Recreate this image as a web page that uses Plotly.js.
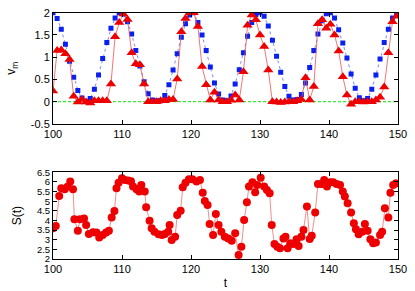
<!DOCTYPE html>
<html><head><meta charset="utf-8">
<script src="https://cdn.plot.ly/plotly-3.0.1.min.js"></script>
<style>html,body{margin:0;padding:0;background:#fff}#c{width:415px;height:291px}</style>
</head><body><div id="c"></div>
<script>
const tTop = [100.0,100.6,101.2,101.8,102.4,103.0,103.6,104.2,104.8,105.4,106.0,106.6,107.2,107.8,108.4,109.0,109.6,110.2,110.8,111.4,112.0,112.6,113.2,113.8,114.4,115.0,115.6,116.2,116.8,117.4,118.0,118.6,119.2,119.8,120.4,121.0,121.6,122.2,122.8,123.4,124.0,124.6,125.2,125.8,126.4,127.0,127.6,128.2,128.8,129.4,130.0,130.6,131.2,131.8,132.4,133.0,133.6,134.2,134.8,135.4,136.0,136.6,137.2,137.8,138.4,139.0,139.6,140.2,140.8,141.4,142.0,142.6,143.2,143.8,144.4,145.0,145.6,146.2,146.8,147.4,148.0,148.6,149.2,149.8];
const vBlue = [2.00,1.87,1.63,1.29,0.91,0.55,0.25,0.08,0.01,0.07,0.28,0.60,0.97,1.33,1.65,1.88,2.00,1.97,1.80,1.52,1.15,0.80,0.45,0.18,0.04,0.02,0.02,0.14,0.38,0.71,1.08,1.45,1.75,1.95,2.00,1.78,1.50,1.15,0.78,0.42,0.17,0.04,0.02,0.13,0.40,0.72,1.10,1.47,1.78,1.96,2.00,1.92,1.70,1.38,1.02,0.66,0.34,0.12,0.04,0.05,0.16,0.42,0.77,1.15,1.52,1.82,1.98,2.00,1.88,1.62,1.32,0.98,0.62,0.30,0.09,0.02,0.07,0.28,0.60,0.96,1.33,1.63,1.88,1.99];
const vRed = [0.24,1.15,1.16,1.08,0.95,0.12,-0.01,0.05,-0.01,-0.03,0.02,0.02,0.02,0.02,0.40,1.46,1.78,1.97,1.85,1.10,0.85,0.83,0.40,0.00,0.00,0.00,0.02,0.02,0.05,0.05,0.51,1.57,1.87,2.00,2.00,1.69,0.79,0.38,0.04,0.21,0.04,0.00,0.00,0.03,0.15,0.04,0.67,1.72,1.95,1.84,1.50,1.24,0.71,0.00,-0.01,-0.02,-0.01,0.00,0.00,0.02,0.05,0.54,0.04,0.34,1.75,1.84,1.65,1.74,1.50,1.14,0.56,0.15,-0.06,0.00,0.00,-0.01,0.00,0.00,0.04,0.10,0.33,1.10,1.80,1.92];
const zeroT = [100,150];
const zeroV = [0,0];
const tS = [100.0,100.4,100.9,101.2,101.7,102.1,102.5,102.9,103.1,103.6,103.9,104.5,104.8,105.2,105.8,106.3,106.7,107.2,107.7,108.1,108.5,108.9,109.2,109.5,110.0,110.4,110.9,111.3,111.6,112.1,112.5,112.8,113.3,113.5,114.0,114.3,114.7,115.3,115.8,116.2,116.7,116.9,117.2,117.7,118.0,118.5,118.8,119.2,119.7,120.2,120.8,121.3,121.7,122.0,122.4,122.7,123.2,123.6,124.0,124.4,124.9,125.4,125.9,126.4,126.9,127.3,127.7,128.1,128.4,128.9,129.3,129.6,130.1,130.6,131.0,131.4,131.7,132.1,132.5,132.9,133.4,133.7,134.0,134.4,134.8,135.3,135.6,136.0,136.3,136.8,137.2,137.5,138.0,138.4,138.9,139.3,139.7,140.2,140.6,141.1,141.6,142.0,142.3,142.7,143.2,143.6,143.9,144.3,144.8,145.2,145.6,146.0,146.4,146.8,147.4,147.7,148.1,148.6,148.9,149.3,149.7];
const S = [3.59,3.71,5.27,5.67,5.62,5.75,6.02,5.62,4.06,3.47,4.06,4.10,3.77,3.30,3.39,3.37,3.11,3.25,3.37,3.47,4.16,4.49,5.67,5.96,6.19,6.10,6.07,6.03,5.76,5.62,5.50,5.84,5.50,4.68,3.99,3.59,3.42,3.28,3.25,3.30,3.42,3.77,2.99,3.16,4.29,4.51,5.72,5.96,6.14,6.14,6.02,6.10,5.44,5.01,4.80,3.82,3.25,4.34,3.77,3.42,3.16,3.07,2.95,3.33,2.21,2.64,4.03,4.94,5.76,5.98,5.46,5.84,6.22,5.76,5.58,5.41,3.77,2.78,2.64,2.56,3.07,3.16,2.56,2.82,2.78,3.02,2.68,3.16,3.51,4.72,3.04,3.21,4.41,5.89,5.89,6.10,5.76,5.98,5.98,5.89,5.84,5.50,5.24,4.89,4.41,3.85,3.54,3.28,3.42,3.82,3.47,3.02,2.82,2.85,3.25,3.42,4.63,4.16,5.44,5.84,5.93];
const xTicks = [100,110,120,130,140,150];
const yTopTicks = [-0.5,0,0.5,1,1.5,2];
const yTopLabels = ['-0.5','0','0.5','1','1.5','2'];
const yBotTicks = [2,2.5,3,3.5,4,4.5,5,5.5,6,6.5];
const yBotLabels = ['2','2.5','3','3.5','4','4.5','5','5.5','6','6.5'];

const fam = 'Liberation Sans, Arial, sans-serif';
const font = {family:fam, size:11, color:'#000'};
const traces = [
  {x:zeroT, y:zeroV, xaxis:'x', yaxis:'y', mode:'lines', line:{color:'#33ee33', width:1.4, dash:'3px,2px'}, hoverinfo:'skip'},
  {x:tTop, y:vBlue, xaxis:'x', yaxis:'y', mode:'lines+markers', line:{color:'#5a6cff', width:0.8, dash:'dot'}, marker:{symbol:'square', size:5, color:'#0a20f0'}},
  {x:tTop, y:vRed, xaxis:'x', yaxis:'y', mode:'lines+markers', line:{color:'#f05050', width:0.8}, marker:{symbol:'triangle-up', size:9, color:'#ee0000'}},
  {x:tS, y:S, xaxis:'x2', yaxis:'y2', mode:'lines+markers', line:{color:'#f07070', width:0.8}, marker:{symbol:'circle', size:8, color:'#ee0000'}}
];
const axBase = {showgrid:false, zeroline:false, showline:true, linecolor:'#000', linewidth:1, mirror:'ticks', ticks:'inside', ticklen:4, tickcolor:'#000', tickfont:font};
const layout = {
  width:415, height:291, showlegend:false,
  paper_bgcolor:'#fff', plot_bgcolor:'#fff',
  margin:{l:53, r:17, t:12, b:32},
  font:font,
  xaxis: Object.assign({}, axBase, {range:[100,150], tickvals:xTicks, domain:[0,1], anchor:'y'}),
  yaxis: Object.assign({}, axBase, {range:[-0.5,2], tickvals:yTopTicks, ticktext:yTopLabels, domain:[0.547,0.997], anchor:'x',
     title:{text:'v<sub>m</sub>', font:{family:fam, size:12}, standoff:12}}),
  xaxis2: Object.assign({}, axBase, {range:[100,150], tickvals:xTicks, domain:[0,1], anchor:'y2',
     title:{text:'t', font:{family:fam, size:12}, standoff:4}}),
  yaxis2: Object.assign({}, axBase, {range:[2,6.5], tickvals:yBotTicks, ticktext:yBotLabels, domain:[0,0.351], anchor:'x2',
     tickfont:{family:fam, size:9.5, color:'#000'},
     title:{text:'S(t)', font:{family:fam, size:12}, standoff:12}})
};
Plotly.newPlot('c', traces, layout, {staticPlot:true, displayModeBar:false});
</script></body></html>
